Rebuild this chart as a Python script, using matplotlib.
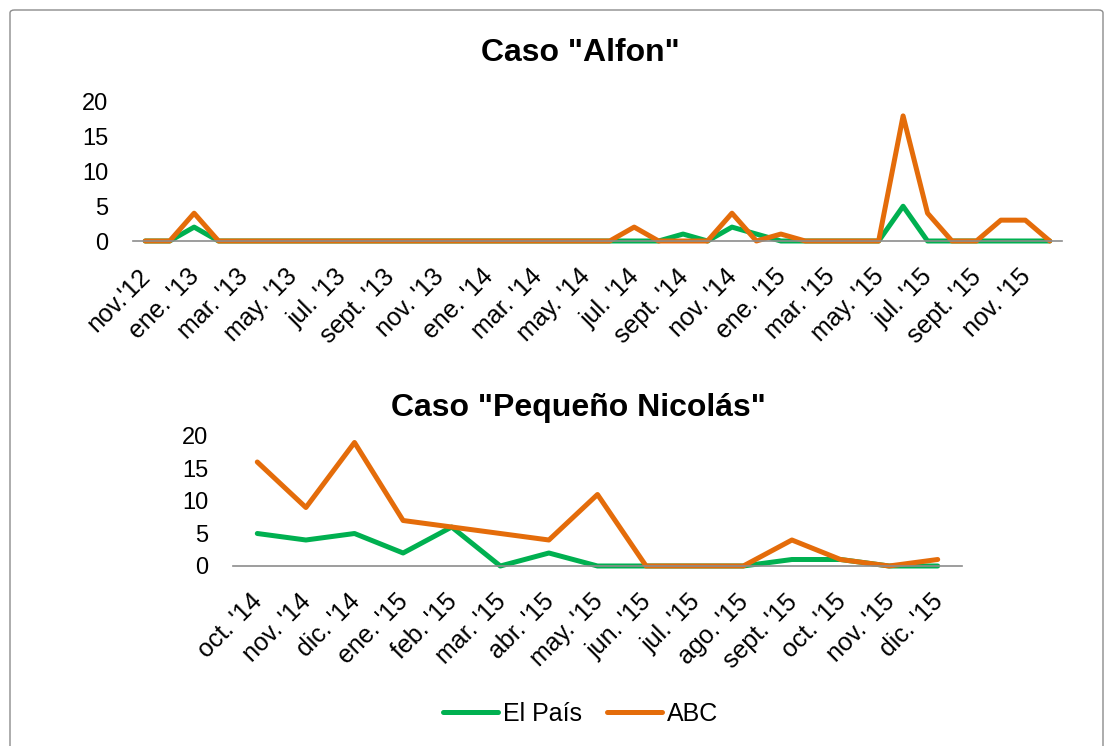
import matplotlib
matplotlib.use("Agg")
import matplotlib.pyplot as plt
from matplotlib.lines import Line2D
from matplotlib.patches import FancyBboxPatch
from matplotlib.transforms import ScaledTranslation

plt.rcParams['font.family'] = ['Liberation Sans', 'DejaVu Sans']

# ---- Data: Caso "Alfon" (monthly, nov.'12 - dic.'15) ----
alfon_months = ["nov.'12", "dic.'12",
                "ene. '13", "feb. '13", "mar. '13", "abr. '13", "may. '13", "jun. '13",
                "jul. '13", "ago. '13", "sept. '13", "oct. '13", "nov. '13", "dic. '13",
                "ene. '14", "feb. '14", "mar. '14", "abr. '14", "may. '14", "jun. '14",
                "jul. '14", "ago. '14", "sept. '14", "oct. '14", "nov. '14", "dic. '14",
                "ene. '15", "feb. '15", "mar. '15", "abr. '15", "may. '15", "jun. '15",
                "jul. '15", "ago. '15", "sept. '15", "oct. '15", "nov. '15", "dic. '15"]
alfon_elpais = [0, 0, 2, 0, 0, 0, 0, 0, 0, 0, 0, 0, 0, 0, 0, 0, 0, 0, 0, 0,
                0, 0, 1, 0, 2, 1, 0, 0, 0, 0, 0, 5, 0, 0, 0, 0, 0, 0]
alfon_abc = [0, 0, 4, 0, 0, 0, 0, 0, 0, 0, 0, 0, 0, 0, 0, 0, 0, 0, 0, 0,
             2, 0, 0, 0, 4, 0, 1, 0, 0, 0, 0, 18, 4, 0, 0, 3, 3, 0]

# ---- Data: Caso "Pequeño Nicolás" ----
nico_months = ["oct. '14", "nov. '14", "dic. '14", "ene. '15", "feb. '15", "mar. '15",
               "abr. '15", "may. '15", "jun. '15", "jul. '15", "ago. '15", "sept. '15",
               "oct. '15", "nov. '15", "dic. '15"]
nico_elpais = [5, 4, 5, 2, 6, 0, 2, 0, 0, 0, 0, 1, 1, 0, 0]
nico_abc = [16, 9, 19, 7, 6, 5, 4, 11, 0, 0, 0, 4, 1, 0, 1]

yticks = [0, 5, 10, 15, 20]
GREEN = '#00B050'
ORANGE = '#E46C0A'
W, H = 1113, 746

fig = plt.figure(figsize=(W / 100, H / 100), dpi=100)

# chart border
fig.patches.append(FancyBboxPatch((10 / W, -0.02), (1103 - 10) / W, 1 - 10 / H + 0.02,
                                  boxstyle="round,pad=0,rounding_size=0.004",
                                  transform=fig.transFigure, fill=False,
                                  edgecolor='#8c8c8c', linewidth=1.0))


def style(ax, n, labels, step):
    ax.set_xlim(-0.5, n - 0.5)
    ax.set_ylim(0, 20)
    ax.set_yticks(yticks)
    ax.set_yticklabels([str(v) for v in yticks], fontsize=17)
    ax.set_xticks(range(0, n, step))
    ax.set_xticklabels(labels[::step], rotation=45, ha='right', rotation_mode='anchor',
                       fontsize=18)
    for s in ['top', 'right', 'left']:
        ax.spines[s].set_visible(False)
    ax.spines['bottom'].set_color('#8c8c8c')
    ax.spines['bottom'].set_linewidth(1.2)
    ax.tick_params(axis='both', length=0)
    ax.tick_params(axis='y', pad=18)
    ax.tick_params(axis='x', pad=17)
    off = ScaledTranslation(-0.07, 0, fig.dpi_scale_trans)
    for lab in ax.get_xticklabels():
        lab.set_transform(lab.get_transform() + off)
    ax.patch.set_alpha(0)


# top chart
ax1 = fig.add_axes([133 / W, 1 - 241 / H, (1062 - 133) / W, (241 - 102) / H])
x1 = range(len(alfon_months))
ax1.plot(x1, alfon_elpais, color=GREEN, lw=3.6, solid_joinstyle='round', solid_capstyle='round', clip_on=False)
ax1.plot(x1, alfon_abc, color=ORANGE, lw=3.6, solid_joinstyle='round', solid_capstyle='round', clip_on=False)
style(ax1, len(alfon_months), alfon_months, 2)
fig.text(580 / W, 1 - 53 / H, 'Caso "Alfon"', ha='center', va='center',
         fontsize=23, fontweight='bold')

# bottom chart
ax2 = fig.add_axes([233 / W, 1 - 566 / H, (962 - 233) / W, (566 - 436) / H])
x2 = range(len(nico_months))
ax2.plot(x2, nico_elpais, color=GREEN, lw=3.6, solid_joinstyle='round', solid_capstyle='round', clip_on=False)
ax2.plot(x2, nico_abc, color=ORANGE, lw=3.6, solid_joinstyle='round', solid_capstyle='round', clip_on=False)
style(ax2, len(nico_months), nico_months, 1)
fig.text(578 / W, 1 - 408 / H, 'Caso "Pequeño Nicolás"', ha='center', va='center',
         fontsize=23, fontweight='bold')

handles = [Line2D([], [], color=GREEN, lw=3.6, solid_capstyle='round'),
           Line2D([], [], color=ORANGE, lw=3.6, solid_capstyle='round')]
fig.legend(handles, ['El País', 'ABC'], loc='center', bbox_to_anchor=(581 / W, 1 - 714 / H),
           ncol=2, frameon=False, fontsize=18, handlelength=2.2, handletextpad=0.2,
           columnspacing=1.0)

fig.savefig('out.png', dpi=100)
